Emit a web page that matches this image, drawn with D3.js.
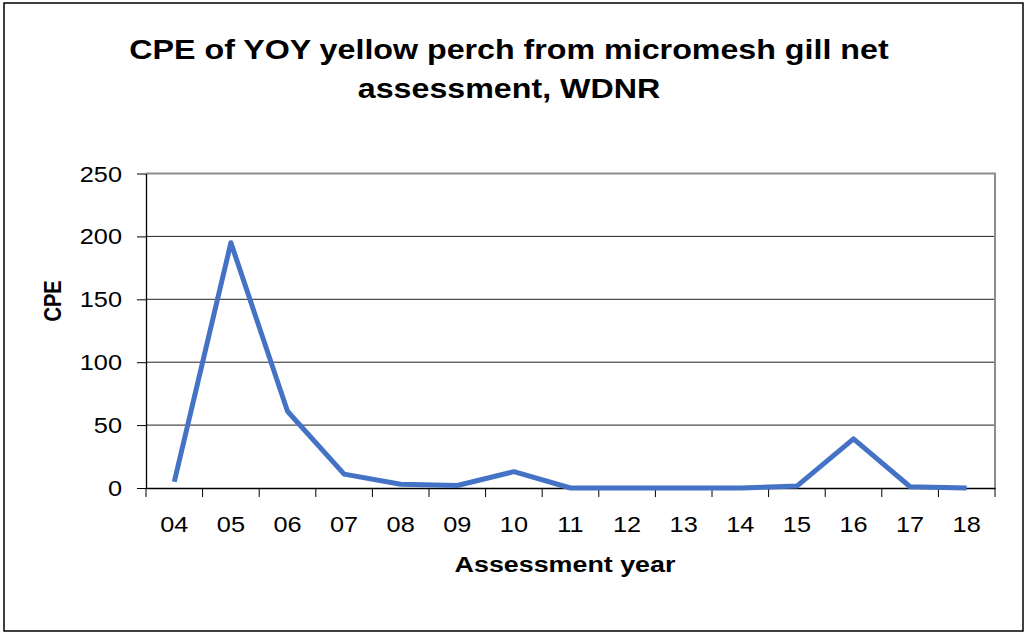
<!DOCTYPE html>
<html>
<head>
<meta charset="utf-8">
<script src="https://cdn.jsdelivr.net/npm/d3@7"></script>
<style>
  html, body { margin: 0; padding: 0; background: #fff; overflow: hidden; }
  svg { display: block; }
  text { font-family: "Liberation Sans", Arial, sans-serif; fill: #000; }
</style>
</head>
<body>
<svg width="1029" height="635"></svg>
<script>
const years = ['04', '05', '06', '07', '08', '09', '10', '11', '12', '13', '14', '15', '16', '17', '18'];
const cpe = [5, 195, 61, 11, 3, 2, 13, 0, 0, 0, 0, 1.5, 39, 1, 0];
const yTicks = [0, 50, 100, 150, 200, 250];

const titleLines = ['CPE of YOY yellow perch from micromesh gill net', 'assessment, WDNR'];
const xAxisLabelText = 'Assessment year';
const yAxisLabelText = 'CPE';

const svg = d3.select('svg');
const width = +svg.attr('width');
const height = +svg.attr('height');

// the source picture is stretched sideways, so glyphs get widened a bit
const stretch = 1.15;
const widen = (sel, f) => sel.each(function() {
    const w = this.getComputedTextLength();
    d3.select(this)
        .attr('textLength', w * f)
        .attr('lengthAdjust', 'spacingAndGlyphs');
});

const margin = { top: 173.5, right: 34, bottom: 147, left: 146 };
const innerWidth = width - margin.left - margin.right;
const innerHeight = height - margin.top - margin.bottom;

// outer frame
svg.append('rect')
    .attr('x', 4).attr('y', 3)
    .attr('width', 1019).attr('height', 628)
    .attr('fill', 'none')
    .attr('stroke', '#000')
    .attr('stroke-width', 1.5);

const g = svg.append('g')
    .attr('transform', `translate(${margin.left},${margin.top})`);

const xScale = d3.scaleBand()
    .domain(years)
    .range([0, innerWidth]);

const yScale = d3.scaleLinear()
    .domain([0, 250])
    .range([innerHeight, 0]);

// gridlines
g.append('g')
    .selectAll('line')
    .data(yTicks.filter(d => d > 0 && d < 250))
    .enter()
    .append('line')
    .attr('x1', 0).attr('x2', innerWidth)
    .attr('y1', d => yScale(d)).attr('y2', d => yScale(d))
    .attr('stroke', '#222')
    .attr('stroke-width', 1);

// plot border top and right (grey)
g.append('path')
    .attr('d', `M0,${yScale(250)}H${innerWidth}V${innerHeight}`)
    .attr('fill', 'none')
    .attr('stroke', '#8c8c8c')
    .attr('stroke-width', 2);

// y axis (lines from d3, labels placed in page coordinates)
const yAxisG = g.append('g')
    .call(d3.axisLeft(yScale).tickValues(yTicks).tickSize(9).tickSizeOuter(0));
yAxisG.select('.domain').attr('stroke', '#000').attr('stroke-width', 1.3);
yAxisG.selectAll('.tick line').attr('stroke', '#000');
yAxisG.selectAll('.tick text').remove();

const yLabels = svg.append('g')
    .selectAll('text')
    .data(yTicks)
    .enter()
    .append('text')
    .attr('x', margin.left - 24)
    .attr('y', d => margin.top + yScale(d) + 8)
    .style('font-size', '22px')
    .style('text-anchor', 'end')
    .text(d => d);
widen(yLabels, stretch);

// x axis with ticks between categories
const xAxisG = g.append('g')
    .attr('transform', `translate(0,${innerHeight})`)
    .call(d3.axisBottom(xScale).tickSize(0));
xAxisG.select('.domain').attr('stroke', '#000').attr('stroke-width', 1.3);
xAxisG.selectAll('.tick text').remove();

g.append('g')
    .selectAll('line')
    .data(d3.range(years.length + 1))
    .enter()
    .append('line')
    .attr('x1', i => i * xScale.step()).attr('x2', i => i * xScale.step())
    .attr('y1', innerHeight).attr('y2', innerHeight + 9)
    .attr('stroke', '#000');

const xLabels = svg.append('g')
    .selectAll('text')
    .data(years)
    .enter()
    .append('text')
    .attr('x', d => margin.left + xScale(d) + xScale.bandwidth() / 2)
    .attr('y', margin.top + innerHeight + 44)
    .style('font-size', '22px')
    .style('text-anchor', 'middle')
    .text(d => d);
widen(xLabels, stretch);

// series line
const line = d3.line()
    .x((d, i) => xScale(years[i]) + xScale.bandwidth() / 2)
    .y(d => yScale(d));

g.append('path')
    .datum(cpe)
    .attr('d', line)
    .attr('fill', 'none')
    .attr('stroke', '#4472C4')
    .attr('stroke-width', 5)
    .attr('stroke-linejoin', 'round');

// titles
const titles = svg.selectAll('.title')
    .data(titleLines)
    .enter()
    .append('text')
    .attr('class', 'title')
    .attr('x', 509)
    .attr('y', (d, i) => 59 + i * 39)
    .style('font-size', '28px')
    .style('font-weight', 'bold')
    .style('text-anchor', 'middle')
    .text(d => d);
widen(titles, stretch);

const xLabel = svg.append('text')
    .attr('class', 'axis-label')
    .attr('x', 565)
    .attr('y', 572)
    .style('font-size', '22px')
    .style('font-weight', 'bold')
    .style('text-anchor', 'middle')
    .text(xAxisLabelText);
widen(xLabel, 1.22);

svg.append('text')
    .attr('class', 'axis-label')
    .attr('transform', 'translate(61,301) scale(1.15,1) rotate(-90)')
    .style('font-size', '20px')
    .style('font-weight', 'bold')
    .style('text-anchor', 'middle')
    .text(yAxisLabelText);
</script>
</body>
</html>
